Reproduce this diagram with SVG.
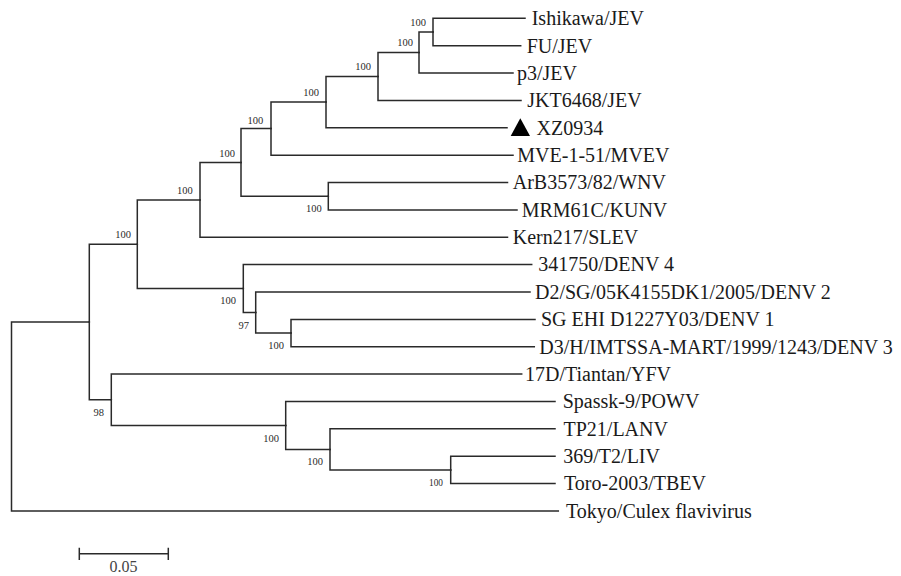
<svg xmlns="http://www.w3.org/2000/svg" width="901" height="576" viewBox="0 0 901 576">
  <style>
    .branch { fill: none; stroke: #2a2a2a; stroke-width: 1.5; stroke-linecap: square; }
    .leaf { font-family: "Liberation Serif", "Times New Roman", serif; font-size: 20px; fill: #1a1a1a; }
    .boot { font-family: "Liberation Serif", "Times New Roman", serif; font-size: 10.5px; fill: #2a2a2a; text-anchor: end; }
    .boot.small { font-size: 9.3px; }
    .scale { font-family: "Liberation Serif", "Times New Roman", serif; font-size: 16px; fill: #444; text-anchor: middle; }
  </style>
  <rect width="901" height="576" fill="#ffffff"/>

  <!-- branches: each path is an elbow from parent node to child -->
  <g id="connectors">
    <!-- root (drawn as one stroke so the vertical stays unbroken) -->
    <path class="branch" d="M89.3 322 H11.5 V511 H558.3"/>
    <!-- Q -->
    <path class="branch" d="M89.3 322 V244.2 H137.3"/>
    <path class="branch" d="M89.3 322 V399.8 H111.3"/>
    <!-- L -->
    <path class="branch" d="M137.3 244.2 V199.9 H200"/>
    <path class="branch" d="M137.3 244.2 V288.6 H243.3"/>
    <!-- H -->
    <path class="branch" d="M200 199.9 V162.4 H241"/>
    <path class="branch" d="M200 199.9 V237.3 H507.5"/>
    <!-- F -->
    <path class="branch" d="M241 162.4 V128.6 H271"/>
    <path class="branch" d="M241 162.4 V196.2 H328.3"/>
    <!-- E -->
    <path class="branch" d="M271 128.6 V102.1 H326"/>
    <path class="branch" d="M271 128.6 V155.2 H513"/>
    <!-- D -->
    <path class="branch" d="M326 102.1 V76.5 H378"/>
    <path class="branch" d="M326 102.1 V127.8 H507"/>
    <!-- C -->
    <path class="branch" d="M378 76.5 V52.6 H419"/>
    <path class="branch" d="M378 76.5 V100.4 H521"/>
    <!-- B -->
    <path class="branch" d="M419 52.6 V32 H433"/>
    <path class="branch" d="M419 52.6 V73.1 H513"/>
    <!-- A -->
    <path class="branch" d="M433 32 V18.3 H525"/>
    <path class="branch" d="M433 32 V45.7 H520.7"/>
    <!-- G -->
    <path class="branch" d="M328.3 196.2 V182.5 H507.5"/>
    <path class="branch" d="M328.3 196.2 V209.9 H517"/>
    <!-- K -->
    <path class="branch" d="M243.3 288.6 V264.6 H531.7"/>
    <path class="branch" d="M243.3 288.6 V312.5 H255.7"/>
    <!-- J -->
    <path class="branch" d="M255.7 312.5 V292 H530"/>
    <path class="branch" d="M255.7 312.5 V333 H291"/>
    <!-- I -->
    <path class="branch" d="M291 333 V319.4 H535"/>
    <path class="branch" d="M291 333 V346.7 H534.3"/>
    <!-- P -->
    <path class="branch" d="M111.3 399.8 V374.1 H521.7"/>
    <path class="branch" d="M111.3 399.8 V425.5 H285.7"/>
    <!-- O -->
    <path class="branch" d="M285.7 425.5 V401.5 H555"/>
    <path class="branch" d="M285.7 425.5 V449.5 H330"/>
    <!-- N -->
    <path class="branch" d="M330 449.5 V428.8 H555"/>
    <path class="branch" d="M330 449.5 V469.9 H450.7"/>
    <!-- M -->
    <path class="branch" d="M450.7 469.9 V456.2 H555"/>
    <path class="branch" d="M450.7 469.9 V483.6 H555"/>
  </g>

  <!-- internal nodes with bootstrap support -->
  <g id="node-A"><text class="boot" x="426" y="26">100</text></g>
  <g id="node-B"><text class="boot" x="413" y="46">100</text></g>
  <g id="node-C"><text class="boot" x="371" y="70">100</text></g>
  <g id="node-D"><text class="boot" x="319" y="96">100</text></g>
  <g id="node-E"><text class="boot" x="263.3" y="124">100</text></g>
  <g id="node-F"><text class="boot" x="235" y="157">100</text></g>
  <g id="node-G"><text class="boot" x="321.7" y="212">100</text></g>
  <g id="node-H"><text class="boot" x="192.7" y="194">100</text></g>
  <g id="node-L"><text class="boot" x="131" y="238">100</text></g>
  <g id="node-K"><text class="boot" x="236" y="304">100</text></g>
  <g id="node-J"><text class="boot" x="249" y="329">97</text></g>
  <g id="node-I"><text class="boot" x="284" y="349">100</text></g>
  <g id="node-P"><text class="boot" x="104" y="416">98</text></g>
  <g id="node-O"><text class="boot" x="279" y="442">100</text></g>
  <g id="node-N"><text class="boot" x="323" y="465">100</text></g>
  <g id="node-M"><text class="boot small" x="443" y="486">100</text></g>

  <!-- leaves -->
  <g id="leaf-ishikawa"><text class="leaf" x="531.7" y="25.1">Ishikawa/JEV</text></g>
  <g id="leaf-fu"><text class="leaf" x="526.7" y="52.5">FU/JEV</text></g>
  <g id="leaf-p3"><text class="leaf" x="517" y="79.9">p3/JEV</text></g>
  <g id="leaf-jkt6468"><text class="leaf" x="527.3" y="107.2">JKT6468/JEV</text></g>
  <g id="leaf-xz0934">
    <polygon points="510.7,136 530,136 520.3,118.3" fill="#000"/>
    <text class="leaf" x="536.5" y="134.6">XZ0934</text>
  </g>
  <g id="leaf-mve"><text class="leaf" x="517.3" y="162">MVE-1-51/MVEV</text></g>
  <g id="leaf-arb"><text class="leaf" x="512.7" y="189.3">ArB3573/82/WNV</text></g>
  <g id="leaf-mrm61c"><text class="leaf" x="521.7" y="216.7">MRM61C/KUNV</text></g>
  <g id="leaf-kern217"><text class="leaf" x="512.7" y="244.1">Kern217/SLEV</text></g>
  <g id="leaf-denv4"><text class="leaf" x="538.3" y="271.4">341750/DENV 4</text></g>
  <g id="leaf-denv2"><text class="leaf" x="535" y="298.8">D2/SG/05K4155DK1/2005/DENV 2</text></g>
  <g id="leaf-denv1"><text class="leaf" x="541" y="326.2">SG EHI D1227Y03/DENV 1</text></g>
  <g id="leaf-denv3"><text class="leaf" x="539.3" y="353.5">D3/H/IMTSSA-MART/1999/1243/DENV 3</text></g>
  <g id="leaf-yfv"><text class="leaf" x="525" y="380.9">17D/Tiantan/YFV</text></g>
  <g id="leaf-powv"><text class="leaf" x="562.7" y="408.3">Spassk-9/POWV</text></g>
  <g id="leaf-lanv"><text class="leaf" x="563.5" y="435.6">TP21/LANV</text></g>
  <g id="leaf-liv"><text class="leaf" x="563.3" y="463">369/T2/LIV</text></g>
  <g id="leaf-tbev"><text class="leaf" x="564" y="490.4">Toro-2003/TBEV</text></g>
  <g id="leaf-culex"><text class="leaf" x="566" y="517.8">Tokyo/Culex flavivirus</text></g>

  <!-- scale bar -->
  <g id="scale-bar">
    <path class="branch" d="M79.3 553.8 H168.3 M79.3 548.5 V559.3 M168.3 548.5 V559.3"/>
    <text class="scale" x="123.5" y="571.5">0.05</text>
  </g>
</svg>
